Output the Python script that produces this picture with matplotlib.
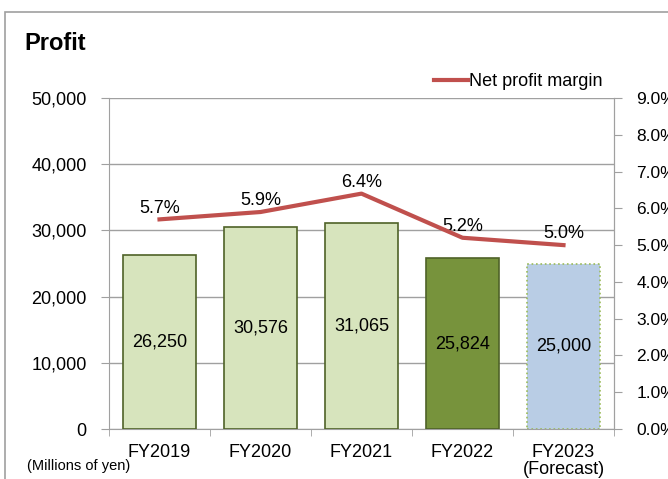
import matplotlib.pyplot as plt
from matplotlib.patches import Rectangle
from matplotlib.ticker import FuncFormatter, MultipleLocator

# データ
years = ["FY2019", "FY2020", "FY2021", "FY2022", "FY2023\n(Forecast)"]
profit = [26250, 30576, 31065, 25824, 25000]
margin = [5.7, 5.9, 6.4, 5.2, 5.0]

face = ["#d7e4bd", "#d7e4bd", "#d7e4bd", "#77933c", "#b9cde5"]
edge = ["#4f6228", "#4f6228", "#4f6228", "#4f6228", "#9bbb59"]
estilo = ["-", "-", "-", "-", ":"]

plt.rcParams['font.family'] = ['Liberation Sans', 'DejaVu Sans']

fig = plt.figure(figsize=(6.68, 4.79), dpi=100)
ax = fig.add_axes([109 / 668, 1 - 429 / 479, 505 / 668, 331 / 479])

x = range(len(years))
bars = ax.bar(x, profit, width=0.72, color=face, zorder=3)
for b, e, ls in zip(bars, edge, estilo):
    b.set_edgecolor(e)
    b.set_linestyle(ls)
    b.set_linewidth(1.2)
ax.bar_label(bars, labels=[f"{v:,}" for v in profit], label_type='center', fontsize=13)

ax.set_ylim(0, 50000)
ax.set_xlim(-0.5, len(years) - 0.5)
ax.yaxis.set_major_locator(MultipleLocator(10000))
ax.yaxis.set_major_formatter(FuncFormatter(lambda v, p: f"{int(v):,}"))
ax.grid(axis='y', color='#a0a0a0', lw=1, zorder=0)
ax.set_xticks(list(x))
ax.set_xticklabels(years, fontsize=13, linespacing=0.95)
ax.set_xticks([i + 0.5 for i in range(-1, len(years))], minor=True)
ax.tick_params(axis='x', which='major', length=0, pad=11)
ax.tick_params(axis='x', which='minor', length=5, color='#a0a0a0')
ax.tick_params(axis='y', length=6, color='#a0a0a0', labelsize=13, pad=10)
for s in ['left', 'bottom', 'right']:
    ax.spines[s].set_color('#a0a0a0')
ax.spines['top'].set_visible(False)

ax2 = ax.twinx()
ax2.plot(list(x), margin, color='#c0504d', lw=3, zorder=4, label='Net profit margin')
for i, m in zip(x, margin):
    ax2.annotate(f"{m:.1f}%", (i, m), textcoords='offset points', xytext=(0, 2),
                 ha='center', va='bottom', fontsize=13)
ax2.set_ylim(0, 9)
ax2.yaxis.set_major_locator(MultipleLocator(1))
ax2.yaxis.set_major_formatter(FuncFormatter(lambda v, p: f"{v:.1f}%"))
ax2.tick_params(axis='y', length=6, color='#a0a0a0', labelsize=12.5, pad=10)
for s in ['left', 'bottom', 'right', 'top']:
    ax2.spines[s].set_visible(False)
ax2.spines['right'].set_visible(True)
ax2.spines['right'].set_color('#a0a0a0')

fig.legend(loc='center', bbox_to_anchor=(518 / 668, 1 - 82 / 479), frameon=False,
           fontsize=13, handlelength=1.9, handletextpad=0.05)

fig.text(24 / 668, 1 - 43 / 479, "Profit", fontsize=17, fontweight='bold', va='center')
fig.text(27 / 668, 1 - 466 / 479, "(Millions of yen)", fontsize=10.5, va='center')
fig.patches.append(Rectangle((5 / 668, -0.1), 1.2, 1.1 - 12 / 479, transform=fig.transFigure,
                             fill=False, edgecolor='#a0a0a0', lw=1.2))

fig.savefig("out.png", dpi=100)
